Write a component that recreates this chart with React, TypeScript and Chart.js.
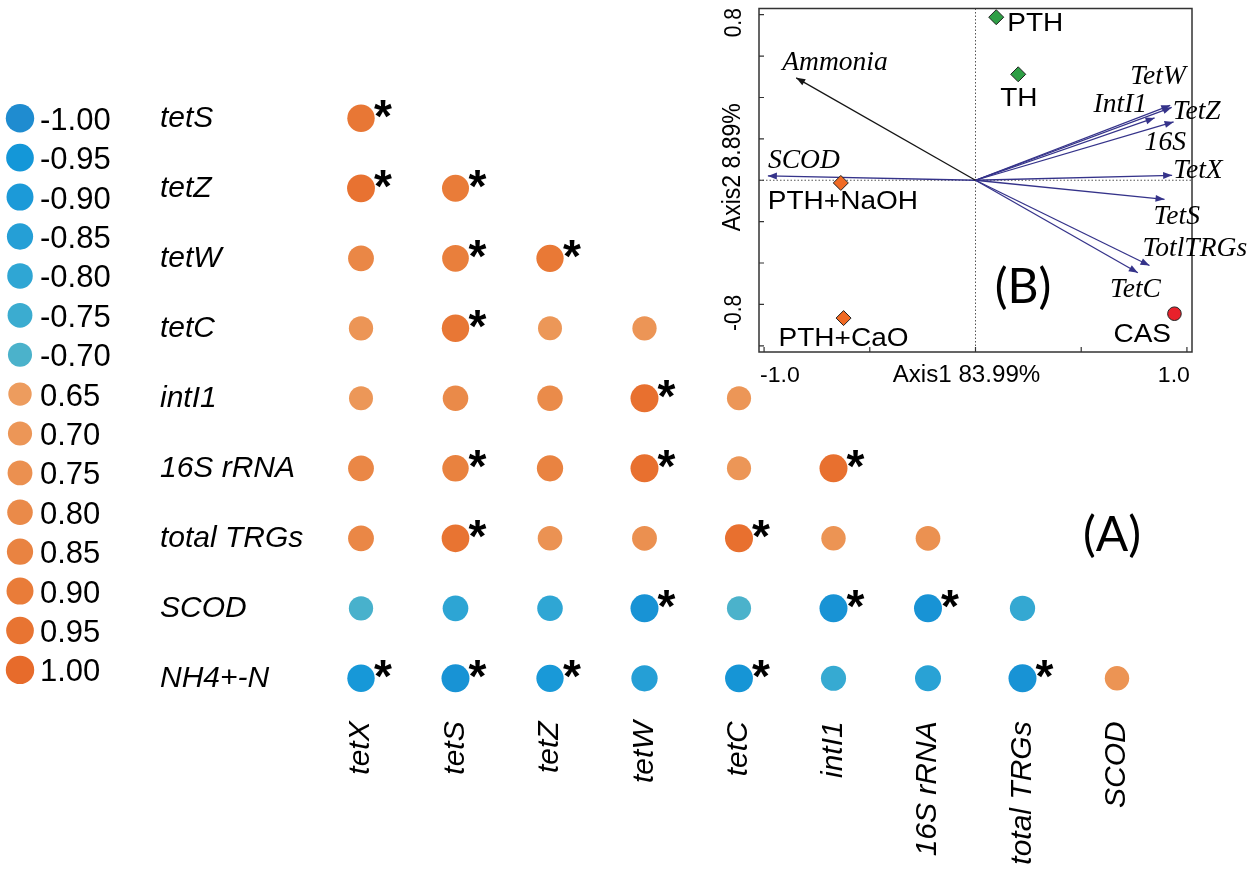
import React, { useEffect, useRef } from "react";
import { Chart, registerables } from "chart.js";

Chart.register(...registerables);

const SANS = '"Liberation Sans", Arial, sans-serif';
const SERIF = '"Liberation Serif", "Times New Roman", serif';

// ---------------- Panel (A): correlation matrix ----------------
const colLabels = ["tetX", "tetS", "tetZ", "tetW", "tetC", "intI1", "16S rRNA", "total TRGs", "SCOD"];
const rowLabels = ["tetS", "tetZ", "tetW", "tetC", "intI1", "16S rRNA", "total TRGs", "SCOD", "NH4+-N"];

const rTetS = [0.93];
const rTetZ = [0.96, 0.9];
const rTetW = [0.82, 0.88, 0.92];
const rTetC = [0.71, 0.93, 0.69, 0.71];
const rIntI1 = [0.69, 0.8, 0.79, 0.97, 0.7];
const r16S = [0.82, 0.86, 0.85, 0.97, 0.7, 0.97];
const rTotal = [0.82, 0.95, 0.73, 0.75, 0.97, 0.72, 0.74];
const rSCOD = [-0.71, -0.81, -0.8, -0.97, -0.7, -0.97, -0.97, -0.78];
const rNH4 = [-0.93, -0.97, -0.92, -0.85, -0.96, -0.77, -0.83, -0.97, 0.72];

const sTetS = [1];
const sTetZ = [1, 1];
const sTetW = [0, 1, 1];
const sTetC = [0, 1, 0, 0];
const sIntI1 = [0, 0, 0, 1, 0];
const s16S = [0, 1, 0, 1, 0, 1];
const sTotal = [0, 1, 0, 0, 1, 0, 0];
const sSCOD = [0, 0, 0, 1, 0, 1, 1, 0];
const sNH4 = [1, 1, 1, 0, 1, 0, 0, 1, 0];

const rowValues = [rTetS, rTetZ, rTetW, rTetC, rIntI1, r16S, rTotal, rSCOD, rNH4];
const rowSig = [sTetS, sTetZ, sTetW, sTetC, sIntI1, s16S, sTotal, sSCOD, sNH4];

const legendValues = [-1.0, -0.95, -0.9, -0.85, -0.8, -0.75, -0.7, 0.65, 0.7, 0.75, 0.8, 0.85, 0.9, 0.95, 1.0];
const legendColors = [
  "#1F8CD0", "#1497D8", "#1C9AD8", "#259FD6", "#2FA6D4", "#3BACD0", "#4BB2CB",
  "#ED9C5E", "#EC9657", "#EB9050", "#EA8A49", "#E98341", "#E97C39", "#E87432", "#E76B2B",
];

// ---------------- Panel (B): ordination biplot ----------------
const vectorNames = ["Ammonia", "SCOD", "TetW", "TetZ", "IntI1", "16S", "TetX", "TetS", "TotlTRGs", "TetC"];
const vectorX = [-0.848, -0.982, 0.921, 0.928, 0.847, 0.937, 0.93, 0.894, 0.823, 0.768];
const vectorY = [0.495, 0.021, 0.362, 0.352, 0.301, 0.282, 0.024, -0.092, -0.412, -0.447];

const sampleNames = ["PTH", "TH", "PTH+NaOH", "PTH+CaO", "CAS"];
const sampleX = [0.098, 0.202, -0.637, -0.624, 0.941];
const sampleY = [0.788, 0.512, -0.013, -0.666, -0.645];

const axis1Title = "Axis1 83.99%";
const axis2Title = "Axis2 8.89%";
const xTickValues = [-1, -0.5, 0, 0.5, 1];
const yTickValues = [-0.8, -0.6, -0.4, -0.2, 0, 0.2, 0.4, 0.6, 0.8];
const xTickLabels = ["-1.0", "1.0"];
const yTickLabels = ["0.8", "-0.8"];

// ---------------- layout / style (not data) ----------------
const vectorColors = ["#151515", "#35338A", "#35338A", "#35338A", "#35338A", "#35338A", "#35338A", "#35338A", "#35338A", "#35338A"];
const vectorLabelOffsets = [[-14, -17], [0, -17], [-40, -30], [1, 3], [-61, -15], [-29, 19], [1, -6], [-11, 16], [-7, -18], [-28, 15]];
const sampleColors = ["#2E9E45", "#2E9E45", "#F06A24", "#F06A24", "#E8212B"];
const sampleShapes = ["rectRot", "rectRot", "rectRot", "rectRot", "circle"];
const sampleLabelOffsets = [[11, 5], [-18, 23], [-73, 17], [-65, 19], [-61, 19]];

function hexToRgb(h: string) {
  const n = parseInt(h.slice(1), 16);
  return [(n >> 16) & 255, (n >> 8) & 255, n & 255];
}

function colorFor(v: number) {
  let lo = 0;
  let hi = legendValues.length - 1;
  if (v <= legendValues[0]) return legendColors[0];
  if (v >= legendValues[hi]) return legendColors[hi];
  for (let i = 0; i < legendValues.length - 1; i++) {
    if (v >= legendValues[i] && v <= legendValues[i + 1]) {
      lo = i;
      hi = i + 1;
      break;
    }
  }
  // gap between -0.70 and 0.65
  if (legendValues[lo] < 0 && legendValues[hi] > 0) {
    return v < 0 ? legendColors[lo] : legendColors[hi];
  }
  const t = (v - legendValues[lo]) / (legendValues[hi] - legendValues[lo]);
  const a = hexToRgb(legendColors[lo]);
  const b = hexToRgb(legendColors[hi]);
  const c = a.map((x, k) => Math.round(x + (b[k] - x) * t));
  return `rgb(${c[0]},${c[1]},${c[2]})`;
}

function radiusFor(v: number) {
  return 11.7 + ((Math.abs(v) - 0.65) / 0.35) * 2.5;
}

function buildPoints() {
  const pts: any[] = [];
  rowValues.forEach((vals, i) => {
    vals.forEach((v, j) => {
      pts.push({ x: colLabels[j], y: rowLabels[i], r: radiusFor(v), v, sig: rowSig[i][j] === 1 });
    });
  });
  return pts;
}

const mainDecor = {
  id: "mainDecor",
  afterDatasetsDraw(chart: any) {
    const ctx = chart.ctx as CanvasRenderingContext2D;
    const meta = chart.getDatasetMeta(0);
    const raws = chart.data.datasets[0].data;
    ctx.save();
    ctx.fillStyle = "#000";
    ctx.font = `bold 46px ${SANS}`;
    ctx.textAlign = "center";
    ctx.textBaseline = "alphabetic";
    meta.data.forEach((el: any, k: number) => {
      if (raws[k].sig) ctx.fillText("*", el.x + 22, el.y + 14);
    });
    // colour legend
    legendValues.forEach((v, i) => {
      const cy = 118.3 + i * 39.4;
      ctx.beginPath();
      ctx.arc(20, cy, radiusFor(v), 0, Math.PI * 2);
      ctx.fillStyle = legendColors[i];
      ctx.fill();
      ctx.fillStyle = "#000";
      ctx.font = `31px ${SANS}`;
      ctx.textAlign = "left";
      ctx.textBaseline = "alphabetic";
      ctx.fillText(v.toFixed(2), 40, cy + 11.5);
    });
    ctx.font = `48px Lato, ${SANS}`;
    ctx.textAlign = "center";
    ctx.textBaseline = "middle";
    ctx.fillText("(A)", 1112, 536);
    ctx.restore();
  },
};

function txt(ctx: CanvasRenderingContext2D, s: string, x: number, y: number, font: string, sx: number, align: CanvasTextAlign) {
  ctx.save();
  ctx.translate(x, y);
  ctx.scale(sx, 1);
  ctx.font = font;
  ctx.textAlign = align;
  ctx.textBaseline = "alphabetic";
  ctx.fillStyle = "#000";
  ctx.fillText(s, 0, 0);
  ctx.restore();
}

function vtxt(ctx: CanvasRenderingContext2D, s: string, x: number, y: number, font: string, sx: number) {
  ctx.save();
  ctx.translate(x, y);
  ctx.scale(sx, 1);
  ctx.rotate(-Math.PI / 2);
  ctx.font = font;
  ctx.textAlign = "center";
  ctx.textBaseline = "middle";
  ctx.fillStyle = "#000";
  ctx.fillText(s, 0, 0);
  ctx.restore();
}

const insetDecor = {
  id: "insetDecor",
  beforeDatasetsDraw(chart: any) {
    const ctx = chart.ctx as CanvasRenderingContext2D;
    const a = chart.chartArea;
    const xs = chart.scales.x;
    const ys = chart.scales.y;
    const x0 = xs.getPixelForValue(0);
    const y0 = ys.getPixelForValue(0);
    ctx.save();
    ctx.strokeStyle = "#555";
    ctx.lineWidth = 1;
    ctx.setLineDash([1.5, 2]);
    ctx.beginPath();
    ctx.moveTo(x0, a.top);
    ctx.lineTo(x0, a.bottom);
    ctx.moveTo(a.left, y0);
    ctx.lineTo(a.right, y0);
    ctx.stroke();
    ctx.setLineDash([]);
    ctx.strokeStyle = "#333";
    ctx.lineWidth = 1.5;
    ctx.strokeRect(a.left, a.top, a.right - a.left, a.bottom - a.top);
    ctx.lineWidth = 1.2;
    ctx.beginPath();
    yTickValues.forEach((v) => {
      const p = ys.getPixelForValue(v);
      ctx.moveTo(a.left, p);
      ctx.lineTo(a.left + 5, p);
    });
    xTickValues.forEach((v) => {
      const p = xs.getPixelForValue(v);
      ctx.moveTo(p, a.bottom);
      ctx.lineTo(p, a.bottom - 5);
    });
    ctx.stroke();
    ctx.restore();
  },
  afterDatasetsDraw(chart: any) {
    const ctx = chart.ctx as CanvasRenderingContext2D;
    const a = chart.chartArea;
    const xs = chart.scales.x;
    const ys = chart.scales.y;
    const ox = xs.getPixelForValue(0);
    const oy = ys.getPixelForValue(0);
    ctx.save();
    // arrowheads + vector labels
    vectorNames.forEach((name, i) => {
      const tx = xs.getPixelForValue(vectorX[i]);
      const ty = ys.getPixelForValue(vectorY[i]);
      const ang = Math.atan2(ty - oy, tx - ox);
      const L = 9;
      const W = 3.5;
      ctx.beginPath();
      ctx.moveTo(tx, ty);
      ctx.lineTo(tx - L * Math.cos(ang) + W * Math.sin(ang), ty - L * Math.sin(ang) - W * Math.cos(ang));
      ctx.lineTo(tx - L * Math.cos(ang) - W * Math.sin(ang), ty - L * Math.sin(ang) + W * Math.cos(ang));
      ctx.closePath();
      ctx.fillStyle = vectorColors[i];
      ctx.fill();
      const [dx, dy] = vectorLabelOffsets[i];
      txt(ctx, name, tx + dx, ty + dy + 8.9, `italic 27px ${SERIF}`, 1.02, "left");
    });
    // sample labels
    sampleNames.forEach((name, i) => {
      const px = xs.getPixelForValue(sampleX[i]);
      const py = ys.getPixelForValue(sampleY[i]);
      const [dx, dy] = sampleLabelOffsets[i];
      txt(ctx, name, px + dx, py + dy + 8.8, `25px ${SANS}`, 1.12, "left");
    });
    // axis labels
    const xl = xs.getPixelForValue(xTickValues[0]);
    const xr = xs.getPixelForValue(xTickValues[xTickValues.length - 1]);
    txt(ctx, xTickLabels[0], xl - 4, a.bottom + 30, `22px ${SANS}`, 1.05, "left");
    txt(ctx, xTickLabels[1], xr + 3, a.bottom + 30, `22px ${SANS}`, 1.05, "right");
    txt(ctx, axis1Title, ox - 9, a.bottom + 30, `23px ${SANS}`, 1.05, "center");
    const yt = ys.getPixelForValue(yTickValues[yTickValues.length - 1]);
    const yb = ys.getPixelForValue(yTickValues[0]);
    vtxt(ctx, yTickLabels[0], a.left - 24, yt + 8, `21px ${SANS}`, 1.1);
    vtxt(ctx, yTickLabels[1], a.left - 24, yb - 33, `21px ${SANS}`, 1.1);
    vtxt(ctx, axis2Title, a.left - 26, oy - 13, `23px ${SANS}`, 1.12);
    ctx.font = `48px Lato, ${SANS}`;
    ctx.textAlign = "center";
    ctx.textBaseline = "middle";
    ctx.fillStyle = "#000";
    ctx.fillText("(B)", 323, 287.5);
    ctx.restore();
  },
};

export default function App() {
  const mainRef = useRef<HTMLCanvasElement>(null);
  const insetRef = useRef<HTMLCanvasElement>(null);

  useEffect(() => {
    const main = new Chart(mainRef.current as HTMLCanvasElement, {
      type: "bubble",
      data: {
        datasets: [
          {
            data: buildPoints(),
            backgroundColor: (c: any) => colorFor(c.raw.v),
            borderWidth: 0,
          } as any,
        ],
      },
      options: {
        animation: false,
        responsive: false,
        events: [],
        layout: { padding: { left: 160, top: 83.3, right: 85.75, bottom: 0 } },
        plugins: { legend: { display: false }, tooltip: { enabled: false } },
        scales: {
          x: {
            type: "category",
            labels: colLabels,
            offset: true,
            grid: { display: false, drawTicks: false },
            border: { display: false },
            ticks: {
              autoSkip: false,
              maxRotation: 90,
              minRotation: 90,
              padding: 8,
              color: "#000",
              font: { family: SANS, size: 30, style: "italic" },
            },
            afterFit: (s: any) => {
              s.height = 165.7;
            },
          },
          y: {
            type: "category",
            labels: rowLabels,
            offset: true,
            grid: { display: false, drawTicks: false },
            border: { display: false },
            ticks: {
              autoSkip: false,
              crossAlign: "far",
              color: "#000",
              font: { family: SANS, size: 30, style: "italic" },
            },
            afterFit: (s: any) => {
              s.width = 153.75;
            },
          },
        },
      } as any,
      plugins: [mainDecor],
    });

    const vectorSets = vectorNames.map((n, i) => ({
      label: n,
      data: [
        { x: 0, y: 0 },
        { x: vectorX[i], y: vectorY[i] },
      ],
      showLine: true,
      borderColor: vectorColors[i],
      borderWidth: 1.3,
      pointRadius: 0,
      fill: false,
    }));
    const sampleSets = sampleNames.map((n, i) => ({
      label: n,
      data: [{ x: sampleX[i], y: sampleY[i] }],
      pointStyle: sampleShapes[i],
      pointRadius: sampleShapes[i] === "circle" ? 6.8 : 7.5,
      backgroundColor: sampleColors[i],
      borderColor: "#222",
      borderWidth: 1,
    }));

    const inset = new Chart(insetRef.current as HTMLCanvasElement, {
      type: "scatter",
      data: { datasets: [...sampleSets, ...vectorSets] as any },
      options: {
        animation: false,
        responsive: false,
        events: [],
        layout: { padding: { left: 59, right: 58, top: 3, bottom: 38 } },
        plugins: { legend: { display: false }, tooltip: { enabled: false } },
        scales: {
          x: { type: "linear", min: -1.024, max: 1.024, display: false },
          y: { type: "linear", min: -0.83, max: 0.83, display: false },
        },
      } as any,
      plugins: [insetDecor],
    });

    return () => {
      main.destroy();
      inset.destroy();
    };
  }, []);

  return (
    <div style={{ position: "fixed", left: 0, top: 0, width: 1250, height: 879, background: "#fff" }}>
      <canvas
        ref={mainRef}
        width={1250}
        height={879}
        style={{ position: "absolute", left: 0, top: 0, width: 1250, height: 879 }}
      />
      <canvas
        ref={insetRef}
        width={550}
        height={390}
        style={{ position: "absolute", left: 700, top: 0, width: 550, height: 390 }}
      />
    </div>
  );
}
